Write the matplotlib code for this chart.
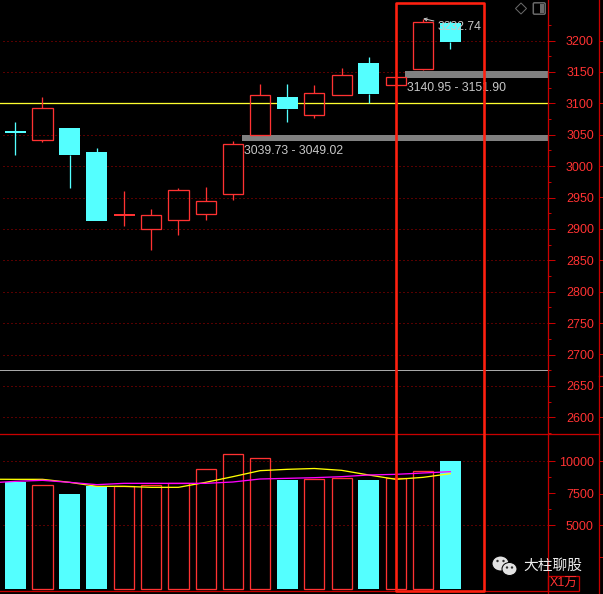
import matplotlib
matplotlib.use("Agg")
import matplotlib.pyplot as plt
from matplotlib.lines import Line2D
from matplotlib.patches import Ellipse, Polygon, Rectangle, FancyBboxPatch

plt.rcParams['font.family'] = ['Liberation Sans', 'Noto Sans CJK SC', 'DejaVu Sans']

# ---------------------------
# Data
# ---------------------------
opens = [3055, 3041, 3061, 3023, 2923, 2899.5, 2914, 2924, 2955, 3050, 3110, 3082, 3114, 3164, 3130, 3155, 3228]
closes = [3055, 3092, 3017, 2912, 2923, 2922, 2962, 2945, 3035, 3114, 3091, 3116, 3145, 3115, 3141.5, 3229, 3197.5]
highs = [3070.5, 3110, 3061, 3029, 2961, 2932, 2966, 2967, 3040, 3131, 3131, 3129, 3157, 3174, 3141.5, 3235, 3231]
lows = [3017, 3039, 2965, 2912, 2904, 2866, 2890, 2915, 2946, 3050, 3070.5, 3077, 3114, 3101, 3130, 3153.5, 3186]
# cyan = falling day, red = rising day
falling = [True, False, True, True, False, False, False, False, False, False, True, False, False, True, False, False, True]

volumes = [8383, 8125, 7445, 8100, 8045, 8125, 8280, 9375, 10547, 10234, 8540, 8594, 8670, 8540, 8695, 9219, 10023]
ma_yellow = [8600, 8591, 8591, 8356, 8044, 8044, 7966, 7966, 8356, 8799, 9268, 9372, 9437, 9294, 8930, 8591, 8747, 9034]
ma_magenta = [8300, 8435, 8513, 8356, 8174, 8278, 8278, 8278, 8278, 8383, 8617, 8669, 8721, 8799, 8930, 8982, 9086, 9190]

band_low = [3039.73, 3049.02]
band_high = [3140.95, 3151.90]
peak = 3232.74
line_yellow = 3100.5
line_gray = 2675

price_ticks = [3200, 3150, 3100, 3050, 3000, 2950, 2900, 2850, 2800, 2750, 2700, 2650, 2600]
price_minor = [3225, 3175, 3125, 3075, 3025, 2975, 2925, 2875, 2825, 2775, 2725, 2675, 2625, 2575]
vol_ticks = [10000, 7500, 5000]
vol_minor = [8750, 6250]

RED = "#ff3232"
DARK_RED = "#c80000"
CYAN = "#54ffff"
PX = 0.72  # one pixel in points at dpi 100
EDGE = 1.3 * PX
W, H = 603, 594


def fx(p):
    return p / W


def fy(p):
    return 1 - p / H


def dx(p):
    # pixel column to candle index
    return (p - 15.3) / 27.19


# ---------------------------
# Axes
# ---------------------------
fig = plt.figure(figsize=(6.03, 5.94), dpi=100, facecolor="black")
ax_p = fig.add_axes([0, fy(434.3), fx(548), 434.3 / H], facecolor="none")
ax_v = fig.add_axes([0, 0, fx(548), (H - 434.3) / H], facecolor="none")

xlim = (dx(0), dx(548))
for ax in (ax_p, ax_v):
    ax.set_xlim(xlim)
    ax.set_xticks([])
    for side in ("left", "top", "bottom"):
        ax.spines[side].set_visible(False)
    ax.spines["right"].set_color(DARK_RED)
    ax.spines["right"].set_linewidth(PX)
    ax.yaxis.tick_right()
    ax.tick_params(axis="y", which="major", length=5, width=PX, color=DARK_RED, labelcolor=RED, labelsize=9, pad=28)
    ax.tick_params(axis="y", which="minor", length=2.2, width=PX, color=DARK_RED)
    ax.grid(False)

ax_p.set_ylim(2573, 3264.6)
ax_v.set_ylim(-367, 12109)

ax_p.set_yticks(price_ticks)
ax_p.set_yticks(price_minor, minor=True)
ax_v.set_yticks(vol_ticks)
ax_v.set_yticks(vol_minor, minor=True)
for ax in (ax_p, ax_v):
    for lab in ax.get_yticklabels():
        lab.set_ha("right")

# dotted grid
ax_p.hlines(price_ticks, dx(3), dx(548), color="#b00000", lw=PX, linestyle=(0, (1, 3)), zorder=1)
ax_v.hlines([10000, 5000], dx(3), dx(548), color="#b00000", lw=PX, linestyle=(0, (1, 3)), zorder=1)

# ---------------------------
# Horizontal levels
# ---------------------------
ax_p.axhline(line_yellow, color="#ffff30", lw=EDGE, zorder=2)
ax_p.axhline(line_gray, color="#a8a8a8", lw=PX, zorder=2)
ax_p.fill_between([dx(242), xlim[1]], band_low[0], band_low[1], color="#808080", lw=0, zorder=2)
ax_p.fill_between([dx(405), xlim[1]], band_high[0], band_high[1], color="#808080", lw=0, zorder=2)

# ---------------------------
# Candles
# ---------------------------
for i in range(len(opens)):
    col = CYAN if falling[i] else RED
    top = max(opens[i], closes[i])
    bot = min(opens[i], closes[i])
    ax_p.vlines(i, top, highs[i], color=col, lw=EDGE, zorder=3)
    ax_p.vlines(i, lows[i], bot, color=col, lw=EDGE, zorder=3)
    if top == bot:
        ax_p.hlines(top, i - 0.385, i + 0.385, color=col, lw=2 * PX, zorder=4)
    elif falling[i]:
        ax_p.bar(i, top - bot, bottom=bot, width=0.77, color=CYAN, lw=0, zorder=4)
    else:
        ax_p.bar(i, top - bot, bottom=bot, width=0.74, facecolor="none", edgecolor=RED, lw=EDGE, zorder=4)

# ---------------------------
# Volume
# ---------------------------
for i in range(len(volumes)):
    if falling[i]:
        ax_v.bar(i, volumes[i], width=0.77, color=CYAN, lw=0, zorder=3)
    else:
        ax_v.bar(i, volumes[i], width=0.74, facecolor="none", edgecolor=RED, lw=EDGE, zorder=3)

ma_x = list(range(-1, len(volumes)))
ax_v.plot(ma_x, ma_yellow, color="#ffff00", lw=EDGE, zorder=4)
ax_v.plot(ma_x, ma_magenta, color="#ff00ff", lw=EDGE, zorder=5)
ax_v.axhline(-156, color=DARK_RED, lw=EDGE, zorder=2)

# ---------------------------
# Labels
# ---------------------------
GRAY_TXT = "#c8c8c8"
ax_p.text(dx(244), 3024, "%.2f - %.2f" % (band_low[0], band_low[1]), color=GRAY_TXT, fontsize=8.8, va="center", zorder=6)
ax_p.text(dx(407), 3124, "%.2f - %.2f" % (band_high[0], band_high[1]), color=GRAY_TXT, fontsize=8.8, va="center", zorder=6)
ax_p.annotate("%.2f" % peak, xy=(15, highs[15]), xytext=(dx(438), 3222), color=GRAY_TXT, fontsize=8.8,
              va="center", ha="left", zorder=6,
              arrowprops=dict(arrowstyle="->", color=GRAY_TXT, lw=PX, mutation_scale=5, shrinkA=1, shrinkB=0))

# ---------------------------
# Frame, rules and small icons in figure pixels
# ---------------------------
def rule(x0, y0, x1, y1, col=DARK_RED, lw=EDGE):
    fig.add_artist(Line2D([fx(x0), fx(x1)], [fy(y0), fy(y1)], color=col, lw=lw, zorder=1))


rule(0, 434.3, 599, 434.3)
rule(548, 0, 548, 594)
rule(599, 0, 599, 594)
rule(599, 376, 603, 376)
for y in [40.6, 71.6, 103, 134.5, 166, 197, 228.5, 260, 291.5, 322.8, 354.2, 385.6, 417, 461, 494, 525, 557]:
    rule(599, y, 602, y, lw=PX)

fig.add_artist(Rectangle((fx(395.5), fy(591)), fx(484.3) - fx(395.5), fy(2.5) - fy(591), transform=fig.transFigure,
                         fill=False, edgecolor="#ff2010", lw=2.6 * PX, joinstyle="round", zorder=10))

# X1万 box
fig.add_artist(Rectangle((fx(548), fy(591)), fx(579) - fx(548), fy(576) - fy(591), transform=fig.transFigure,
                         fill=False, edgecolor=DARK_RED, lw=EDGE, zorder=3))
fig.text(fx(563.5), fy(584), "X1万", color=RED, fontsize=9, ha="center", va="center", zorder=4)

# corner icons
fig.add_artist(Polygon([(fx(521), fy(3)), (fx(526.5), fy(8.5)), (fx(521), fy(14)), (fx(515.5), fy(8.5))],
                       transform=fig.transFigure, fill=False, edgecolor="#6a6a6a", lw=PX))
fig.add_artist(FancyBboxPatch((fx(534.5), fy(13)), fx(544) - fx(534.5), fy(4) - fy(13), transform=fig.transFigure,
                              boxstyle="round,pad=0.002", facecolor="none", edgecolor="#6a6a6a", lw=1.5 * PX))
fig.add_artist(Rectangle((fx(539.5), fy(12.5)), fx(544) - fx(539.5), fy(4.5) - fy(12.5), transform=fig.transFigure,
                         facecolor="#6a6a6a", lw=0))

# watermark
for cx, cy, rx, ry in [(500.5, 563.5, 8.5, 7.5), (509.5, 569, 7.5, 6.5)]:
    fig.add_artist(Ellipse((fx(cx), fy(cy)), 2 * rx / W, 2 * ry / H, transform=fig.transFigure,
                           facecolor="#e2e2e2", edgecolor="black", lw=PX, zorder=7))
for cx, cy in [(497.5, 561), (503.5, 561), (507, 567.5), (512, 567.5)]:
    fig.add_artist(Ellipse((fx(cx), fy(cy)), 2.4 / W, 2.4 / H, transform=fig.transFigure,
                           facecolor="#303030", lw=0, zorder=8))
fig.text(fx(523), fy(565.5), "大柱聊股", color="#ececec", fontsize=10.6, ha="left", va="center", zorder=7,
         family=["Noto Sans CJK SC", "DejaVu Sans"])

fig.savefig("out.png", dpi=100, facecolor="black")
